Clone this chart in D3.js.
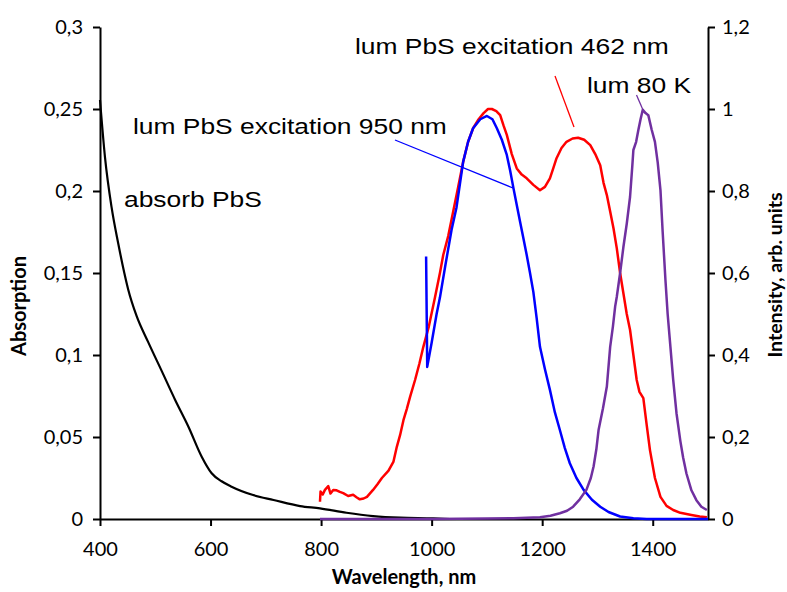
<!DOCTYPE html>
<html>
<head>
<meta charset="utf-8">
<script src="https://cdn.jsdelivr.net/npm/d3@7"></script>
<style>
  body { margin: 0; background: #fff; }
  svg { display: block; }
</style>
</head>
<body>
<div id="chart"></div>
<script>
// ---- data (wavelength nm, value) ----
const absorbPbS = [[400,0.2555],[409,0.2207],[421,0.190],[433,0.168],[444,0.150],[451,0.140],[466,0.124],[487,0.108],
  [512,0.090],[536,0.0726],[560,0.0563],[584,0.038],[602,0.0279],[620,0.023],[638,0.0197],[677,0.0146],
  [714,0.0116],[762,0.0079],[798,0.0065],[846,0.0038],[894,0.0018],[943,0.0008],[1003,0.0004],[1033,0.0]];

const lum462 = [[798,0.042],[799,0.067],[803,0.060],[807,0.071],[813,0.080],[817,0.062],[822,0.071],[828,0.070],
  [834,0.066],[840,0.063],[849,0.056],[858,0.059],[864,0.053],[870,0.048],[877,0.050],[883,0.054],[894,0.071],
  [902,0.085],[910,0.100],[922,0.118],[931,0.140],[937,0.176],[943,0.205],[949,0.241],[955,0.268],[961,0.298],
  [970,0.339],[978,0.38],[985,0.42],[995,0.47],[1006,0.54],[1015,0.60],[1021,0.644],[1030,0.69],[1039,0.75],
  [1048,0.81],[1057,0.871],[1066,0.92],[1075,0.953],[1085,0.975],[1094,0.99],[1102,1.0],[1109,1.0],[1117,0.995],
  [1124,0.985],[1130,0.96],[1136,0.937],[1145,0.89],[1154,0.855],[1163,0.84],[1172,0.831],[1184,0.815],
  [1196,0.802],[1205,0.81],[1214,0.831],[1220,0.855],[1226,0.88],[1235,0.905],[1244,0.92],[1255,0.928],
  [1265,0.93],[1276,0.925],[1287,0.912],[1296,0.89],[1305,0.863],[1311,0.82],[1317,0.79],[1323,0.75],
  [1329,0.709],[1335,0.66],[1341,0.60],[1347,0.55],[1353,0.50],[1359,0.461],[1365,0.40],[1371,0.339],
  [1376,0.31],[1383,0.295],[1389,0.23],[1395,0.168],[1404,0.10],[1414,0.054],[1425,0.032],[1437,0.022],
  [1450,0.015],[1470,0.01],[1485,0.006],[1498,0.004]];

const lum950 = [[990,0.64],[992,0.371],[1000,0.43],[1009,0.50],[1015,0.54],[1025,0.62],[1036,0.705],[1045,0.76],
  [1057,0.871],[1066,0.92],[1075,0.953],[1088,0.975],[1100,0.983],[1110,0.975],[1118,0.953],[1127,0.925],
  [1136,0.888],[1142,0.85],[1148,0.807],[1154,0.766],[1160,0.725],[1166,0.685],[1172,0.644],[1178,0.60],
  [1184,0.554],[1190,0.49],[1196,0.42],[1205,0.365],[1214,0.315],[1223,0.26],[1232,0.217],[1241,0.173],
  [1250,0.136],[1262,0.10],[1275,0.071],[1290,0.047],[1305,0.030],[1320,0.017],[1341,0.006],[1365,0.002],
  [1389,0.0],[1450,0.0],[1500,0.0]];

const lum80K = [[798,0],[900,0],[1000,0],[1100,0.001],[1148,0.002],[1196,0.004],[1215,0.008],[1232,0.014],
  [1245,0.02],[1256,0.03],[1268,0.048],[1280,0.071],[1288,0.10],[1293,0.128],[1298,0.17],[1302,0.217],
  [1310,0.27],[1317,0.323],[1323,0.42],[1328,0.47],[1332,0.518],[1335,0.542],[1341,0.60],[1347,0.664],
  [1353,0.72],[1359,0.786],[1363,0.86],[1365,0.90],[1370,0.92],[1374,0.949],[1378,0.975],[1382,0.998],
  [1387,0.99],[1392,0.985],[1398,0.95],[1404,0.92],[1409,0.87],[1414,0.802],[1418,0.70],[1423,0.583],
  [1427,0.50],[1432,0.42],[1437,0.34],[1443,0.258],[1450,0.19],[1455,0.15],[1461,0.111],[1470,0.07],
  [1479,0.046],[1488,0.03],[1498,0.022]];

const xTicks = [400, 600, 800, 1000, 1200, 1400];
const yLeftTicks = [0, 0.05, 0.1, 0.15, 0.2, 0.25, 0.3];
const yRightTicks = [0, 0.2, 0.4, 0.6, 0.8, 1, 1.2];

// ---- layout ----
const W = 787, H = 592;
const mLeft = 100, mRight = 708, mTop = 27, mBottom = 519;

const svg = d3.select("#chart").append("svg").attr("width", W).attr("height", H);

const x = d3.scaleLinear().domain([400, 1500]).range([mLeft, mRight]);
const yL = d3.scaleLinear().domain([0, 0.3]).range([mBottom, mTop]);
const yR = d3.scaleLinear().domain([0, 1.2]).range([mBottom, mTop]);

const comma = d => String(d).replace(".", ",");

function styleAxis(g) {
  g.selectAll("path, line").attr("stroke", "#000").attr("stroke-width", 2);
  g.selectAll("text").attr("font-family", "Lato, 'Open Sans', sans-serif").attr("font-size", 20).attr("fill", "#000");
}

svg.append("g").attr("transform", `translate(0,${mBottom})`)
  .call(d3.axisBottom(x).tickValues(xTicks).tickFormat(d => String(d)).tickSize(7).tickSizeOuter(0).tickPadding(16))
  .call(styleAxis);
svg.append("g").attr("transform", `translate(${mLeft},0)`)
  .call(d3.axisLeft(yL).tickValues(yLeftTicks).tickFormat(comma).tickSize(7).tickSizeOuter(0).tickPadding(10))
  .call(styleAxis);
svg.append("g").attr("transform", `translate(${mRight},0)`)
  .call(d3.axisRight(yR).tickValues(yRightTicks).tickFormat(comma).tickSize(7).tickSizeOuter(0).tickPadding(7))
  .call(styleAxis);

// axis titles
svg.append("text").attr("x", (mLeft + mRight) / 2).attr("y", 584).attr("text-anchor", "middle")
  .attr("font-family", "Lato, sans-serif").attr("font-weight", "bold").attr("font-size", 20)
  .text("Wavelength, nm");
svg.append("text").attr("transform", "translate(26,306) rotate(-90)").attr("text-anchor", "middle")
  .attr("font-family", "Lato, sans-serif").attr("font-weight", "bold").attr("font-size", 20)
  .text("Absorption");
svg.append("text").attr("transform", "translate(782,275) rotate(-90)").attr("text-anchor", "middle")
  .attr("font-family", "Lato, sans-serif").attr("font-weight", "bold").attr("font-size", 19.5)
  .text("Intensity, arb. units");

// ---- curves ----
const lineL = d3.line().x(d => x(d[0])).y(d => yL(d[1])).curve(d3.curveMonotoneX);
const lineR = d3.line().x(d => x(d[0])).y(d => yR(d[1]));

svg.append("path").datum(absorbPbS).attr("d", lineL)
  .attr("fill", "none").attr("stroke", "#000").attr("stroke-width", 2.2);
svg.append("path").datum(lum462).attr("d", lineR)
  .attr("fill", "none").attr("stroke", "#ff0000").attr("stroke-width", 2.5).attr("stroke-linejoin", "round");
svg.append("path").datum(lum950).attr("d", lineR)
  .attr("fill", "none").attr("stroke", "#0000ff").attr("stroke-width", 2.5).attr("stroke-linejoin", "round");
svg.append("path").datum(lum80K).attr("d", lineR)
  .attr("fill", "none").attr("stroke", "#7030a0").attr("stroke-width", 2.5).attr("stroke-linejoin", "round");

// ---- labels with leader lines ----
const labels = [
  { text: "lum PbS excitation 462 nm", x: 355, y: 54, color: "#ff0000", from: [555, 76], to: [574, 127] },
  { text: "lum 80 K", x: 587, y: 93, color: "#7030a0", from: [636.5, 95], to: [643, 110] },
  { text: "lum PbS excitation 950 nm", x: 133, y: 134, color: "#0000ff", from: [395, 140], to: [513, 188] },
  { text: "absorb PbS", x: 124, y: 207, color: null }
];

labels.forEach(l => {
  svg.append("text")
    .attr("transform", `translate(${l.x},${l.y}) scale(1.2,1)`)
    .attr("font-family", "'Liberation Sans', Arial, sans-serif")
    .attr("font-size", 22)
    .attr("fill", "#000")
    .text(l.text);
  if (l.color) {
    svg.append("line")
      .attr("x1", l.from[0]).attr("y1", l.from[1])
      .attr("x2", l.to[0]).attr("y2", l.to[1])
      .attr("stroke", l.color).attr("stroke-width", 1.3);
  }
});
</script>
</body>
</html>
